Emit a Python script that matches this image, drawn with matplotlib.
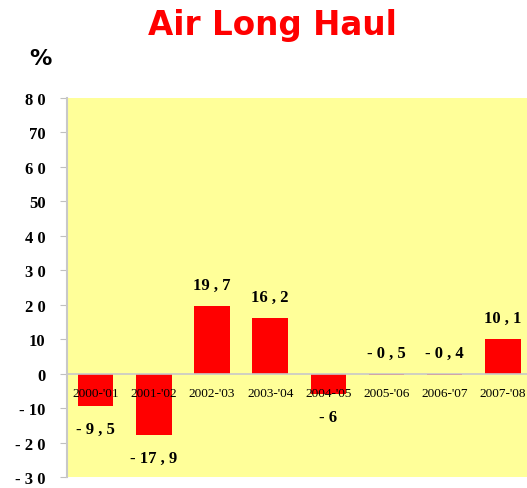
import matplotlib.pyplot as plt

periods = ["2000-'01", "2001-'02", "2002-'03", "2003-'04", "2004-'05", "2005-'06", "2006-'07", "2007-'08"]
growth = [-9.5, -17.9, 19.7, 16.2, -6.0, -0.5, -0.4, 10.1]
value_labels = ["- 9 , 5", "- 17 , 9", "19 , 7", "16 , 2", "- 6", "- 0 , 5", "- 0 , 4", "10 , 1"]
yticks = [80, 70, 60, 50, 40, 30, 20, 10, 0, -10, -20, -30]
ytick_labels = ["8 0", "70", "6 0", "50", "4 0", "3 0", "2 0", "10", "0", "- 10", "- 2 0", "- 3 0"]

fig = plt.figure(figsize=(5.27, 4.89), dpi=100)
ax = fig.add_axes([66.5 / 527, 11 / 489, 465.5 / 527, 379 / 489])
ax.set_facecolor("#ffff99")

x = list(range(len(periods)))
ax.bar(x, growth, width=0.61, color="#ff0000", zorder=2)
ax.axhline(0, color="#c8c8c8", lw=1.2, zorder=3)

serif = ["Liberation Serif", "DejaVu Serif"]
for i, v in enumerate(growth):
    # small negatives got their labels above the axis in the original
    if v < -1:
        ax.annotate(value_labels[i], (i, v), xytext=(0, -16.5), textcoords="offset points",
                    ha="center", va="center", fontsize=12, fontweight="bold", family=serif)
    else:
        ax.annotate(value_labels[i], (i, max(v, 0)), xytext=(0, 15), textcoords="offset points",
                    ha="center", va="center", fontsize=12, fontweight="bold", family=serif)
    ax.annotate(periods[i], (i, 0), xytext=(0, -14), textcoords="offset points",
                ha="center", va="center", fontsize=9.5, family=serif, zorder=4)

ax.set_xlim(-0.5, 7.5)
ax.set_ylim(-30, 80)
ax.set_xticks([])
ax.set_yticks(yticks)
ax.set_yticklabels(ytick_labels, fontsize=12, fontweight="bold", family=serif)
ax.tick_params(axis="y", length=5, color="#c0c0c0", pad=10)
for s in ["top", "right", "bottom"]:
    ax.spines[s].set_visible(False)
ax.spines["left"].set_color("#c8c8c8")
ax.spines["left"].set_linewidth(1.5)

fig.text(272 / 527, 1 - 25 / 489, "Air Long Haul", ha="center", va="center",
         fontsize=23.5, fontweight="bold", color="#ff0000", family="DejaVu Sans")
fig.text(40 / 527, 1 - 59 / 489, "%", ha="center", va="center",
         fontsize=16, fontweight="bold", family="DejaVu Sans")

fig.savefig("out.png", dpi=100)
